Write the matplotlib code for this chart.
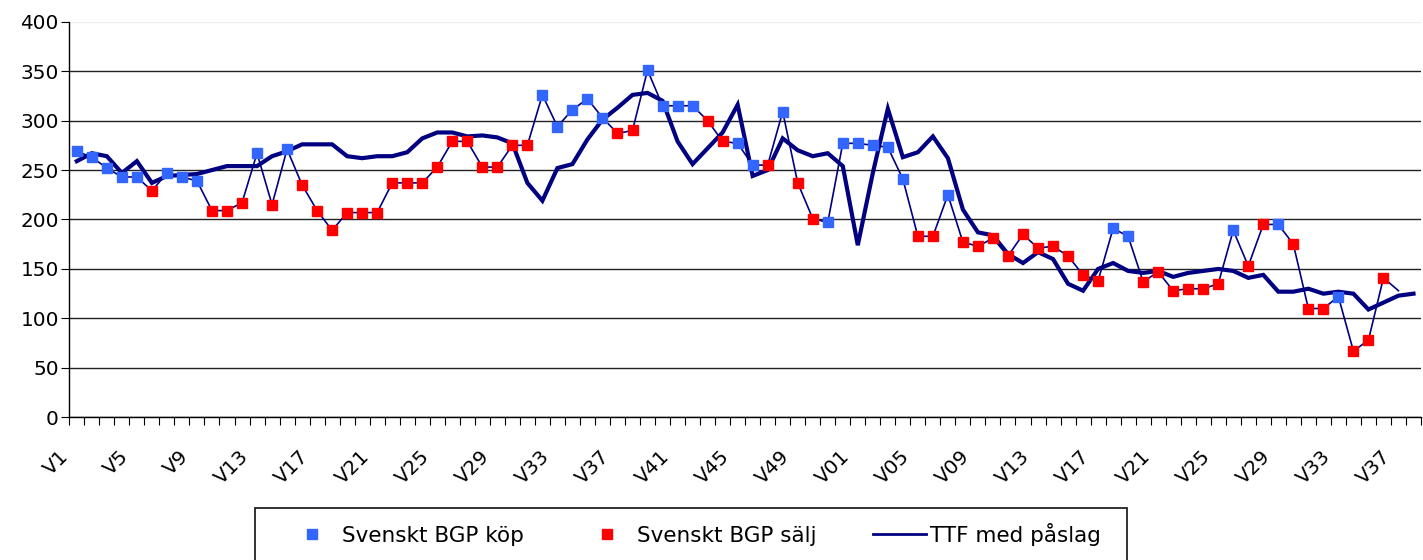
import matplotlib
matplotlib.use("Agg")
import matplotlib.pyplot as plt
import matplotlib.transforms as mtransforms
import numpy as np
from matplotlib.lines import Line2D
from matplotlib.patches import Rectangle

# week labels: V1..V52 then V01..V38
weeks = [f"V{w}" for w in range(1, 53)] + [f"V{w:02d}" for w in range(1, 39)]

# Svenskt BGP price, K = köp, S = sälj, " " = no marker
bgp = [269, 263, 252, 243, 243, 229, 247, 243, 239, 209,
       209, 217, 267, 215, 271, 235, 209, 189, 207, 207,
       207, 237, 237, 237, 253, 279, 279, 253, 253, 275,
       275, 326, 294, 311, 322, 303, 287, 290, 351, 315,
       315, 315, 300, 279, 277, 255, 255, 309, 237, 201,
       197, 277, 277, 275, 273, 241, 183, 183, 225, 177,
       173, 181, 163, 185, 171, 173, 163, 144, 138, 191,
       183, 137, 147, 128, 130, 130, 135, 189, 153, 195,
       195, 175, 110, 110, 122, 67, 78, 141, 128, np.nan]
bgp_type = ("KKKKKSKKKS" "SSKSKSSSSS" "SSSSSSSSSS" "SKKKKKSSKK"
            "KKSSKKSKSS" "KKKKKKSSKS" "SSSSSSSSSK" "KSSSSSSKSS"
            "KSSSKSSS" "  ")

ttf = [259, 267, 264, 247, 259, 237, 244, 245, 246, 250,
       254, 254, 254, 264, 269, 276, 276, 276, 264, 262,
       264, 264, 268, 282, 288, 288, 284, 285, 283, 277,
       237, 219, 252, 256, 281, 301, 313, 326, 328, 320,
       279, 256, 272, 288, 316, 244, 250, 282, 270, 264,
       267, 254, 174, 247, 312, 263, 268, 284, 262, 210,
       187, 184, 165, 156, 167, 160, 135, 128, 150, 156,
       148, 146, 148, 142, 146, 148, 150, 148, 141, 144,
       127, 127, 130, 125, 127, 125, 109, 116, 123, 125]

BLUE = "#3366FF"
RED = "#FF0000"
NAVY = "#000080"

x = np.arange(len(weeks))
bgp_arr = np.array(bgp, dtype=float)
types = np.array(list(bgp_type))
kop = np.where(types == "K", bgp_arr, np.nan)
salj = np.where(types == "S", bgp_arr, np.nan)

fig = plt.figure(figsize=(14.23, 5.6), dpi=100)
ax = fig.add_axes([69.3 / 1423, 1 - 417.3 / 560, (1421 - 69.3) / 1423, (417.3 - 21.7) / 560])

ax.plot(x, bgp_arr, color=NAVY, lw=1.2, zorder=2)
ax.plot(x, ttf, color=NAVY, lw=3.0, zorder=3, solid_joinstyle="miter")
ax.plot(x, kop, ls="none", marker="s", ms=7.5, color=BLUE, mec=BLUE, zorder=4)
ax.plot(x, salj, ls="none", marker="s", ms=7.5, color=RED, mec=RED, zorder=4)

ax.set_xlim(-0.5, len(weeks) - 0.5)
ax.set_ylim(0, 400)
ax.set_yticks(range(0, 401, 50))
ax.yaxis.grid(True, color="#222222", lw=1.0)
ax.get_ygridlines()[-1].set_color("#eeeeee")
ax.set_axisbelow(True)

ax.set_xticks(x[::4])
ax.set_xticklabels(weeks[::4], rotation=45, ha="right", va="center",
                   rotation_mode="anchor", fontsize=14.4)
ax.set_xticks(np.arange(-0.5, len(weeks), 1), minor=True)
ax.tick_params(axis="x", which="major", length=0, pad=26)
ax.tick_params(axis="x", which="minor", length=6, width=0.8, direction="out")
ax.tick_params(axis="y", length=5.5, width=0.8, labelsize=14.4, pad=2)

# nudge the rotated week labels left, like the original
shift = mtransforms.ScaledTranslation(-11 / 100, 0, fig.dpi_scale_trans)
for lbl in ax.get_xticklabels():
    lbl.set_transform(lbl.get_transform() + shift)

for side in ("top", "right"):
    ax.spines[side].set_visible(False)
for side in ("left", "bottom"):
    ax.spines[side].set_linewidth(1.0)
    ax.spines[side].set_color("black")

# legend box running off the bottom edge
fig.patches.append(Rectangle((255 / 1423, -15 / 560), (1127 - 255) / 1423, (575 - 508) / 560,
                             transform=fig.transFigure, fill=False, edgecolor="#222222",
                             lw=1.3, clip_on=False))
handles = [
    Line2D([], [], ls="none", marker="s", ms=6.5, color=BLUE),
    Line2D([], [], ls="none", marker="s", ms=6.5, color=RED),
    Line2D([], [], color=NAVY, lw=2),
]
fig.legend(handles, ["Svenskt BGP köp", "Svenskt BGP sälj", "TTF med påslag"],
           loc="center left", bbox_to_anchor=(285.5 / 1423, 1 - 534 / 560),
           ncol=3, frameon=False, fontsize=15.5, borderpad=0, borderaxespad=0,
           handlelength=2.46, handletextpad=0.15, columnspacing=2.65)

fig.savefig("out.png", dpi=100)
